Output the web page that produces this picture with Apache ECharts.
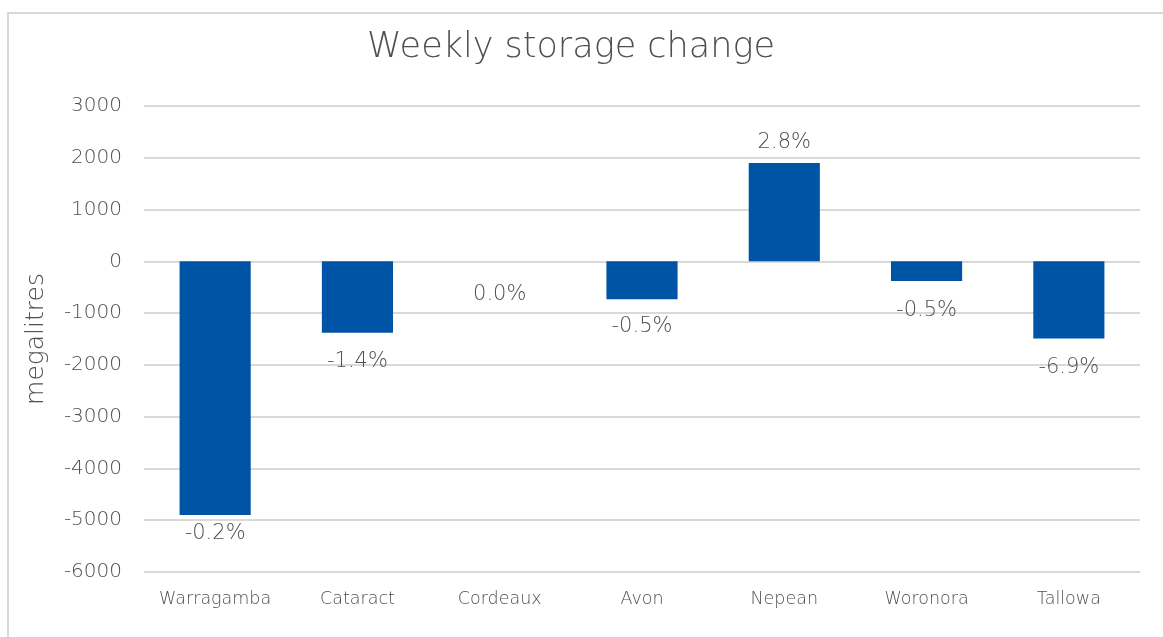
<!DOCTYPE html>
<html>
<head>
<meta charset="utf-8">
<script src="https://cdn.jsdelivr.net/npm/echarts@6/dist/echarts.min.js"></script>
<style>
  html, body { margin: 0; padding: 0; background: #fff; }
  #chart { width: 1163px; height: 637px; }
</style>
</head>
<body>
<div id="chart"></div>
<script>
// 数据
const dams = ['Warragamba', 'Cataract', 'Cordeaux', 'Avon', 'Nepean', 'Woronora', 'Tallowa'];
const changeMl = [-4900, -1380, 0, -730, 1900, -380, -1490];
const changePct = ['-0.2%', '-1.4%', '0.0%', '-0.5%', '2.8%', '-0.5%', '-6.9%'];

const FONT = '"DejaVu Sans", sans-serif';
const WEIGHT = 200;   // 细一点，接近原图的字体
const TEXT = '#4f4f4f';
const BAR = '#0054a6';

// label gap (Excel 把 Warragamba 的标签往里挤了一点)
const labelGap = [8, 18, 23, 17, 10, 19, 19];

const chart = echarts.init(document.getElementById('chart'), null, { renderer: 'canvas' });

chart.setOption({
    animation: false,
    graphic: [{
        type: 'rect',
        shape: { x: 8, y: 13, width: 1180, height: 640 },
        style: { fill: 'none', stroke: '#d9d9d9', lineWidth: 2 },
        silent: true
    }],
    title: {
        text: 'Weekly storage change',
        left: 566,
        textAlign: 'center',
        top: 25,
        textStyle: { fontFamily: FONT, fontWeight: WEIGHT, fontSize: 35, color: TEXT }
    },
    grid: { left: 144, right: 23, top: 106, bottom: 65, containLabel: false },
    xAxis: {
        type: 'category',
        data: dams,
        axisLine: { show: false },
        axisTick: { show: false },
        axisLabel: { color: TEXT, fontFamily: FONT, fontWeight: WEIGHT, fontSize: 17.5, margin: 18, interval: 0 }
    },
    yAxis: {
        type: 'value',
        min: -6000,
        max: 3000,
        interval: 1000,
        name: 'megalitres',
        nameLocation: 'middle',
        nameGap: 95,
        nameTextStyle: { color: TEXT, fontFamily: FONT, fontWeight: WEIGHT, fontSize: 25 },
        axisLine: { show: false },
        axisTick: { show: false },
        axisLabel: {
            color: TEXT, fontFamily: FONT, fontWeight: WEIGHT, fontSize: 20, margin: 22,
            formatter: (v) => String(v)
        },
        splitLine: { lineStyle: { color: '#d9d9d9', width: 2 } }
    },
    series: [{
        type: 'bar',
        barWidth: '50%',
        itemStyle: { color: BAR },
        data: changeMl.map((v, i) => ({
            value: v,
            label: {
                show: true,
                position: v > 0 ? 'top' : 'bottom',
                distance: labelGap[i],
                formatter: changePct[i],
                color: TEXT,
                fontFamily: FONT,
                fontWeight: WEIGHT,
                fontSize: 21
            }
        }))
    }]
});
</script>
</body>
</html>
